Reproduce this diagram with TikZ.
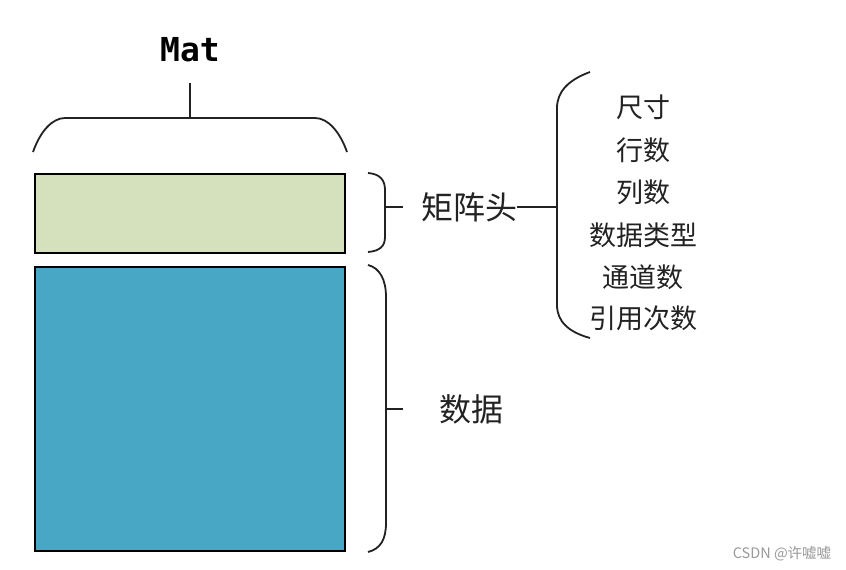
\documentclass[tikz,border=0pt]{standalone}
\usepackage{fontspec}
\setmainfont{Noto Sans CJK SC}
\newfontfamily\monof{DejaVu Sans Mono}
\definecolor{hdrgreen}{HTML}{D5E1BC}
\definecolor{datablue}{HTML}{48A7C4}
\definecolor{ink}{HTML}{222222}
\begin{document}
\begin{tikzpicture}[x=1pt,y=-1pt,
  brace/.style={draw=ink,line width=1.8pt},
  box/.style={draw=black,line width=2.6pt},
  item/.style={font=\fontsize{27}{27}\selectfont,text=ink,inner sep=0pt},
  lbl/.style={font=\fontsize{32}{32}\selectfont,text=ink,inner sep=0pt}]
\useasboundingbox[fill=white] (0,0) rectangle (846,570);
% boxes
\draw[box,fill=hdrgreen] (35,174) rectangle (345,253);
\draw[box,fill=datablue] (35,267) rectangle (345,551);
% Mat label and top brace
\node[font=\monof\bfseries\fontsize{33}{33}\selectfont,text=black,inner sep=0pt] (mat) at (190,50) {Mat};
\coordinate (topmid) at (190,118);
\draw[brace] (33,152) .. controls (40,132) and (52,118) .. (65,118) -- (315,118) .. controls (328,118) and (340,132) .. (347,152);
\coordinate (stemtop) at (190,83);
\draw[brace] (stemtop) -- (topmid);
% header brace
\draw[brace] (368,173) .. controls (380,174) and (385,180) .. (385,190) -- (385,237) .. controls (385,246) and (380,251) .. (368,252);
\draw[brace] (385,207) -- (403,207);
\node[lbl,anchor=west] (hdr) at (421,207) {矩阵头};
\coordinate (jn) at (557,207);
\draw[brace] (hdr.east) -- (jn);
% big brace
\draw[brace] (590,72) .. controls (568,80) and (557,92) .. (557,108) -- (557,305) .. controls (557,321) and (568,332) .. (590,338);
% items
\node[item] (i1) at (643,107) {尺寸};
\node[item] (i2) at (643,150) {行数};
\node[item] (i3) at (643,192) {列数};
\node[item] (i4) at (643,235) {数据类型};
\node[item] (i5) at (643,277) {通道数};
\node[item] (i6) at (643,318) {引用次数};
% data brace
\draw[brace] (368,265) .. controls (380,268) and (386,280) .. (386,297) -- (386,523) .. controls (386,540) and (380,549) .. (368,552);
\draw[brace] (386,409) -- (403,409);
\node[lbl,anchor=west] (data) at (439,409) {数据};
% watermark
\node[font=\fontsize{14.5}{14.5}\selectfont,text=gray!80,inner sep=0pt] (wm) at (782,554) {CSDN @许嘘嘘};
\end{tikzpicture}
\end{document}
